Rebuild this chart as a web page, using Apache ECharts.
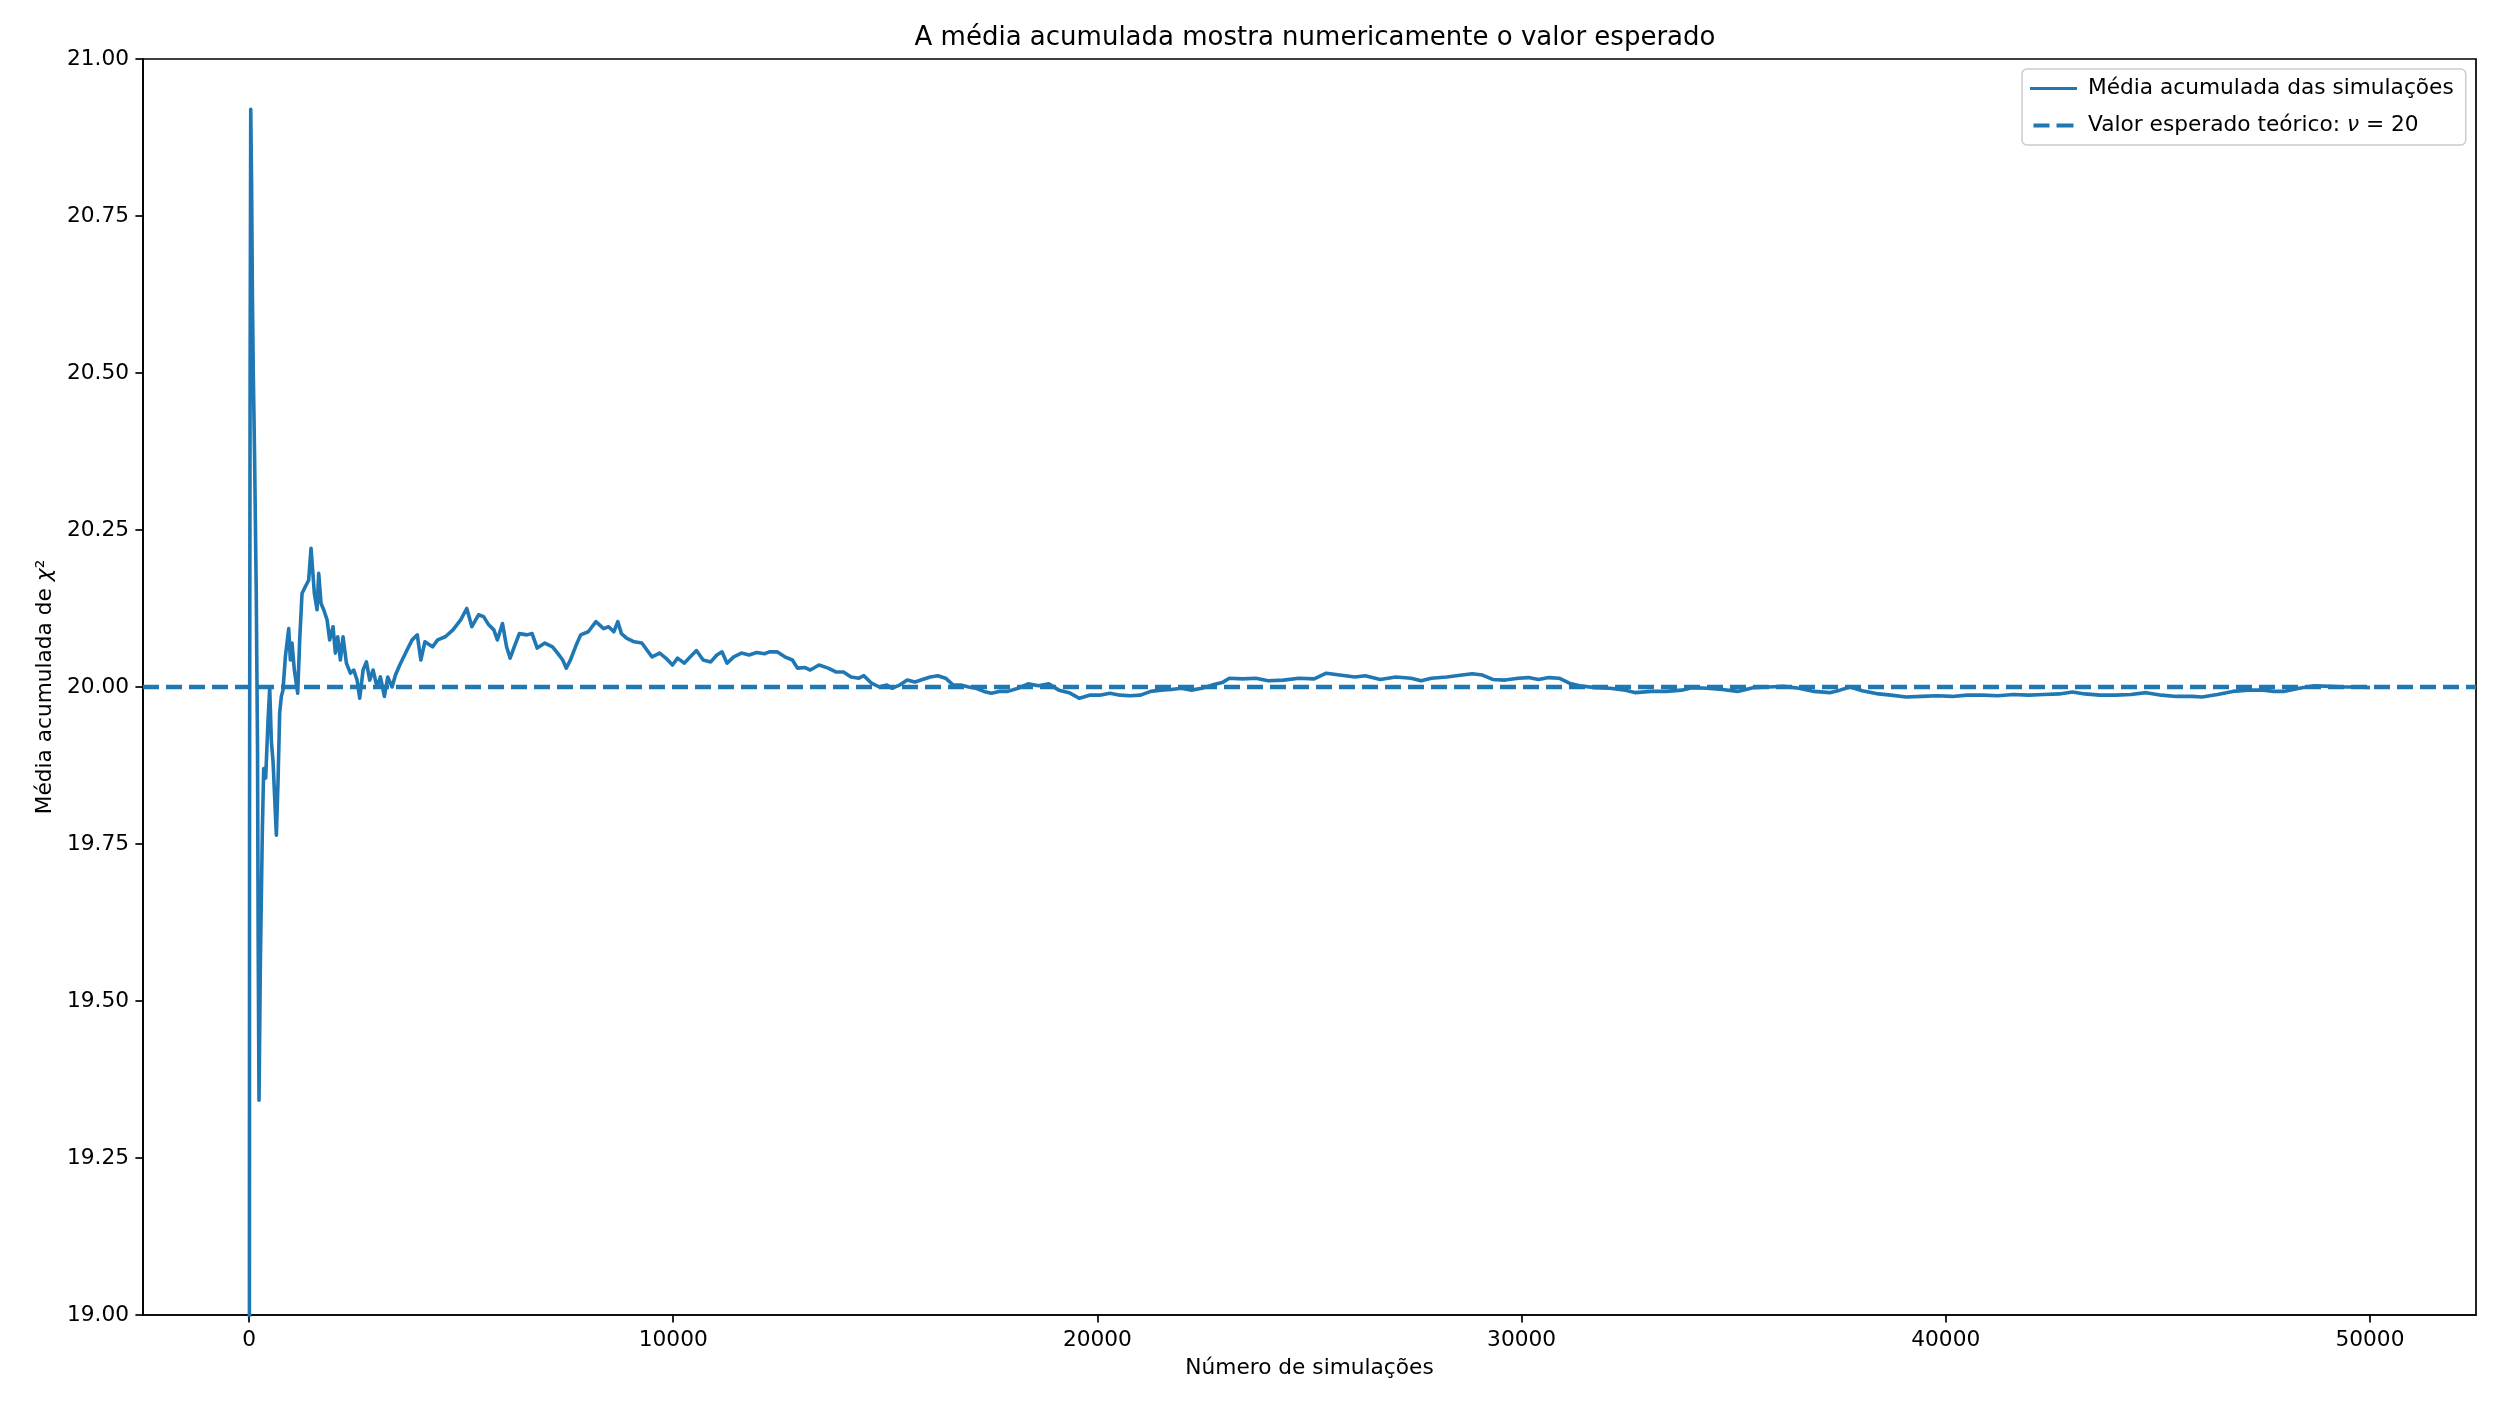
<!DOCTYPE html>
<html>
<head>
<meta charset="utf-8">
<title>Média acumulada</title>
<script src="https://cdn.jsdelivr.net/npm/echarts@6/dist/echarts.min.js"></script>
<style>
  html, body { margin: 0; padding: 0; background: #fff; }
  #chart { width: 2500px; height: 1406px; }
</style>
</head>
<body>
<div id="chart"></div>
<script>
// numero de simulacoes (x) e media acumulada (y)
const simX = [
  1, 12, 25, 40, 60, 80, 100, 130, 170, 200, 215, 235, 266, 313, 345, 392, 447, 487, 526, 566,
  644, 683, 722, 762, 800, 856, 935, 974, 1013, 1068, 1147, 1194, 1249, 1328, 1406, 1461, 1540, 1603,
  1642, 1697, 1760, 1839, 1901, 1980, 2035, 2090, 2153, 2216, 2295, 2389, 2468, 2547, 2609, 2688,
  2767, 2845, 2924, 3018, 3097, 3191, 3270, 3372, 3451, 3553, 3725, 3845, 3966, 4050, 4146, 4326,
  4447, 4627, 4808, 4989, 5133, 5253, 5410, 5530, 5650, 5771, 5855, 5975, 6071, 6155, 6252, 6372,
  6553, 6673, 6793, 6974, 7154, 7274, 7395, 7479, 7576, 7696, 7817, 7997, 8178, 8358, 8478, 8599,
  8694, 8779, 8899, 9080, 9260, 9380, 9500, 9681, 9825, 9982, 10102, 10259, 10403, 10547, 10705,
  10884, 11029, 11149, 11269, 11427, 11606, 11788, 11967, 12149, 12269, 12448, 12630, 12809, 12929,
  13111, 13231, 13436, 13653, 13833, 14014, 14193, 14375, 14495, 14675, 14856, 15035, 15156, 15337,
  15517, 15698, 15877, 16059, 16238, 16420, 16601, 16781, 16962, 17142, 17323, 17502, 17684, 17887,
  18128, 18370, 18611, 18852, 19093, 19333, 19574, 19814, 20055, 20295, 20536, 20776, 21017, 21257,
  21498, 21739, 21979, 22220, 22460, 22701, 22941, 23111, 23423, 23736, 24024, 24387, 24748, 25109,
  25397, 25710, 26071, 26312, 26672, 27033, 27394, 27634, 27875, 28236, 28597, 28837, 29078, 29318,
  29608, 29920, 30161, 30401, 30642, 30884, 31125, 31365, 31726, 32087, 32448, 32689, 33050, 33410,
  33771, 34012, 34373, 34733, 35094, 35455, 35816, 36177, 36538, 36899, 37261, 37502, 37743, 38031,
  38415, 38705, 39066, 39427, 39788, 40149, 40509, 40870, 41231, 41592, 41953, 42314, 42677, 42988,
  43278, 43639, 44000, 44361, 44722, 45083, 45443, 45804, 46045, 46406, 46767, 47127, 47488, 47729,
  47969, 48330, 48693, 49054, 49415, 49776, 50000
];
const simMean = [
  17.30, 19.80, 20.50, 20.92, 20.80, 20.62, 20.50, 20.37, 20.15, 19.90, 19.60, 19.342, 19.556, 19.77, 19.87, 19.855, 19.946, 19.998, 19.914, 19.881,
  19.764, 19.849, 19.959, 19.985, 19.995, 20.048, 20.093, 20.043, 20.070, 20.027, 19.990, 20.075, 20.149, 20.160, 20.170, 20.221, 20.149, 20.123,
  20.181, 20.133, 20.123, 20.107, 20.075, 20.096, 20.054, 20.080, 20.043, 20.080, 20.038, 20.022, 20.027, 20.011, 19.982, 20.027,
  20.040, 20.011, 20.027, 20.000, 20.016, 19.985, 20.016, 20.000, 20.019, 20.035, 20.059, 20.075, 20.083, 20.043, 20.072, 20.064,
  20.075, 20.080, 20.091, 20.107, 20.125, 20.096, 20.115, 20.112, 20.099, 20.091, 20.075, 20.101, 20.064, 20.046, 20.064, 20.085,
  20.083, 20.085, 20.062, 20.070, 20.064, 20.054, 20.043, 20.030, 20.043, 20.064, 20.083, 20.088, 20.104, 20.093, 20.096, 20.088,
  20.104, 20.085, 20.078, 20.072, 20.070, 20.059, 20.048, 20.054, 20.046, 20.035, 20.046, 20.038, 20.048, 20.058, 20.043,
  20.040, 20.051, 20.056, 20.038, 20.048, 20.054, 20.051, 20.055, 20.053, 20.056, 20.056, 20.048, 20.043, 20.030,
  20.031, 20.027, 20.035, 20.030, 20.024, 20.024, 20.016, 20.014, 20.018, 20.006, 20.000, 20.003, 19.998, 20.003,
  20.011, 20.008, 20.012, 20.016, 20.018, 20.014, 20.003, 20.003, 20.000, 19.998, 19.993, 19.990, 19.993, 19.993,
  19.998, 20.005, 20.002, 20.005, 19.995, 19.991, 19.982, 19.987, 19.987, 19.990, 19.987, 19.986, 19.987, 19.993,
  19.995, 19.996, 19.998, 19.995, 19.998, 20.003, 20.007, 20.014, 20.013, 20.014, 20.010, 20.011, 20.014, 20.013,
  20.022, 20.019, 20.016, 20.018, 20.012, 20.016, 20.014, 20.010, 20.014, 20.016, 20.019, 20.021, 20.019, 20.012,
  20.011, 20.014, 20.015, 20.012, 20.015, 20.014, 20.006, 20.002, 19.999, 19.998, 19.995, 19.991, 19.993, 19.993,
  19.995, 19.999, 19.998, 19.996, 19.993, 19.999, 20.000, 20.001, 19.998, 19.993, 19.991, 19.995, 20.000, 19.994,
  19.989, 19.987, 19.984, 19.985, 19.986, 19.985, 19.987, 19.987, 19.986, 19.988, 19.987, 19.988, 19.989, 19.992,
  19.989, 19.987, 19.987, 19.988, 19.991, 19.987, 19.985, 19.985, 19.984, 19.988, 19.993, 19.995, 19.995, 19.993,
  19.993, 19.998, 20.002, 20.001, 20.000, 20.000, 19.999
];
const expectedValue = 20;
const xTicks = [0, 10000, 20000, 30000, 40000, 50000];

const font = 'DejaVu Sans';
const blue = '#1f77b4';

const chart = echarts.init(document.getElementById('chart'));
chart.setOption({
  backgroundColor: '#fff',
  animation: false,
  title: {
    text: 'A média acumulada mostra numericamente o valor esperado',
    left: 1310,
    textAlign: 'center',
    top: 20,
    textStyle: { fontFamily: font, fontSize: 26, fontWeight: 'normal', color: '#000' }
  },
  grid: {
    left: 143, right: 24, top: 59, bottom: 91,
    show: true, borderColor: '#000', borderWidth: 1.7, backgroundColor: 'transparent'
  },
  legend: {
    orient: 'vertical',
    left: 2022,
    top: 69,
    padding: [8, 12, 8, 8],
    itemWidth: 47,
    itemHeight: 4,
    itemGap: 14,
    backgroundColor: '#fff',
    borderColor: '#cccccc',
    borderWidth: 1.5,
    borderRadius: 5,
    itemStyle: { borderWidth: 0 },
    textStyle: {
      fontFamily: font, fontSize: 21.7, color: '#000', lineHeight: 23, padding: [0, 0, 0, 6],
      rich: { i: { fontFamily: font, fontStyle: 'italic', fontSize: 21.7, color: '#000' } }
    },
    formatter: function (name) {
      return name.replace('ν', '{i|ν}');
    },
    data: [
      { name: 'Média acumulada das simulações', icon: 'path://M0,0H47V3.2H0Z' },
      { name: 'Valor esperado teórico: ν = 20', icon: 'path://M0,0H16V4H0Z M23,0H40V4H23Z' }
    ]
  },
  xAxis: {
    type: 'value',
    min: -2500,
    max: 52500,
    name: 'Número de simulações',
    nameLocation: 'middle',
    nameGap: 42,
    nameTextStyle: { fontFamily: font, fontSize: 21.7, color: '#000' },
    axisLine: { show: true, onZero: false, lineStyle: { color: '#000', width: 1.7 } },
    axisTick: { show: true, inside: false, length: 7.6, customValues: xTicks, lineStyle: { color: '#000', width: 1.7 } },
    axisLabel: {
      customValues: xTicks, margin: 14, fontFamily: font, fontSize: 21.7, color: '#000',
      formatter: function (v) { return String(v); }
    },
    splitLine: { show: false }
  },
  yAxis: {
    type: 'value',
    min: 19,
    max: 21,
    interval: 0.25,
    name: 'Média acumulada de {i|χ}²',
    nameLocation: 'middle',
    nameGap: 84,
    nameRotate: 90,
    nameTextStyle: {
      fontFamily: font, fontSize: 21.7, color: '#000',
      rich: { i: { fontFamily: font, fontStyle: 'italic', fontSize: 21.7, color: '#000' } }
    },
    axisLine: { show: true, onZero: false, lineStyle: { color: '#000', width: 1.7 } },
    axisTick: { show: true, inside: false, length: 7.6, lineStyle: { color: '#000', width: 1.7 } },
    axisLabel: {
      margin: 14, fontFamily: font, fontSize: 21.7, color: '#000',
      formatter: function (v) { return v.toFixed(2); }
    },
    splitLine: { show: false }
  },
  series: [
    {
      name: 'Média acumulada das simulações',
      type: 'line',
      data: simX.map((x, i) => [x, simMean[i]]),
      showSymbol: false,
      symbol: 'none',
      clip: true,
      lineStyle: { color: blue, width: 3.6, join: 'round' },
      itemStyle: { color: blue },
      z: 2
    },
    {
      name: 'Valor esperado teórico: ν = 20',
      type: 'line',
      data: [[-2500, expectedValue], [52500, expectedValue]],
      showSymbol: false,
      symbol: 'none',
      lineStyle: { color: blue, width: 4.3, type: [16, 7] },
      itemStyle: { color: blue },
      z: 3
    }
  ]
});
</script>
</body>
</html>
